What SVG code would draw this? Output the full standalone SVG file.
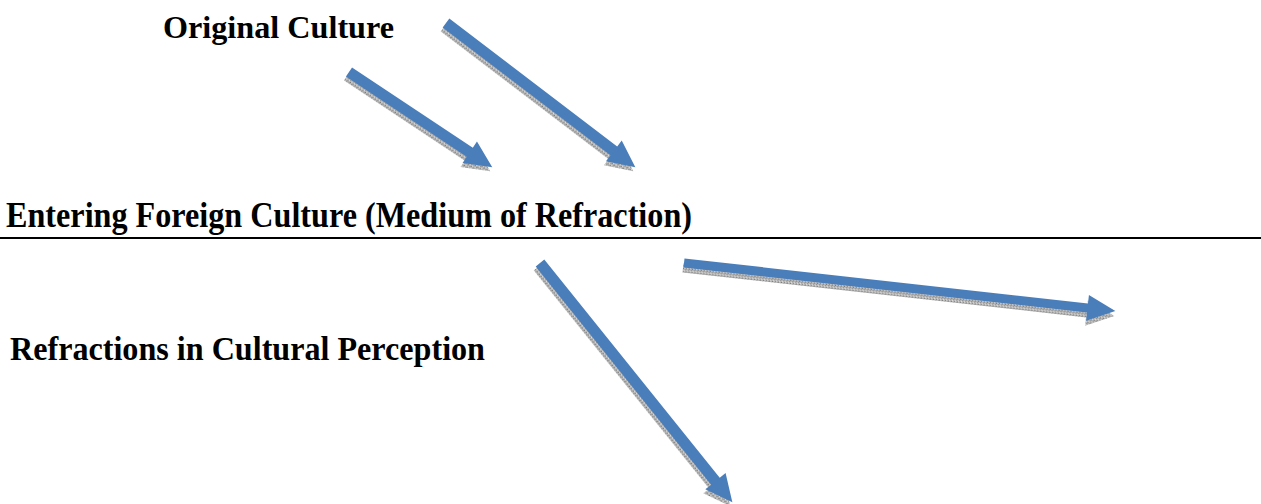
<svg xmlns="http://www.w3.org/2000/svg" width="1261" height="504" viewBox="0 0 1261 504">
  <defs>
    <pattern id="speckle" width="3" height="3" patternUnits="userSpaceOnUse">
      <rect width="3" height="3" fill="#b8b8b8"/>
      <rect x="0" y="0" width="1" height="1" fill="#7a7a7a"/>
      <rect x="2" y="1" width="1" height="1" fill="#8e8e8e"/>
      <rect x="1" y="2" width="1" height="1" fill="#e0e0e0"/>
    </pattern>
  </defs>
  <style>
    .lbl { font-family: "Liberation Serif", "Times New Roman", serif; font-weight: bold; fill: #000; }
    .arrow { fill: #4a7ebb; }
    .shadow { fill: url(#speckle); }
  </style>
  <rect width="1261" height="504" fill="#fff"/>

  <g id="node-original">
    <text class="lbl" x="163" y="38" font-size="32" textLength="231" lengthAdjust="spacingAndGlyphs">Original Culture</text>
  </g>
  <g id="node-entering">
    <text class="lbl" x="6" y="227" font-size="36" textLength="686" lengthAdjust="spacingAndGlyphs">Entering Foreign Culture (Medium of Refraction)</text>
    <rect x="0" y="237" width="1261" height="2" fill="#000"/>
  </g>
  <g id="node-refractions">
    <text class="lbl" x="10" y="360" font-size="33" textLength="475" lengthAdjust="spacingAndGlyphs">Refractions in Cultural Perception</text>
  </g>

  <g id="connectors">
    <!-- arrow 1 -->
    <g transform="translate(-2,4)"><path class="shadow" transform="translate(349,72) rotate(33.6)" d="M0,-5.5 H145 V-13 L172,0 L145,13 V5.5 H0 Z"/></g>
    <path class="arrow" transform="translate(349,72) rotate(33.6)" d="M0,-5.5 H145 V-13 L172,0 L145,13 V5.5 H0 Z"/>
    <!-- arrow 2 -->
    <g transform="translate(-2,4)"><path class="shadow" transform="translate(446,23) rotate(37.3)" d="M0,-5.5 H211 V-13 L238,0 L211,13 V5.5 H0 Z"/></g>
    <path class="arrow" transform="translate(446,23) rotate(37.3)" d="M0,-5.5 H211 V-13 L238,0 L211,13 V5.5 H0 Z"/>
    <!-- arrow 3 -->
    <g transform="translate(-2,4)"><path class="shadow" transform="translate(540,263) rotate(51.2)" d="M0,-5.5 H280 V-13 L307,0 L280,13 V5.5 H0 Z"/></g>
    <path class="arrow" transform="translate(540,263) rotate(51.2)" d="M0,-5.5 H280 V-13 L307,0 L280,13 V5.5 H0 Z"/>
    <!-- arrow 4 -->
    <g transform="translate(-1,5)"><path class="shadow" transform="translate(684,263) rotate(6.35)" d="M0,-4.5 H406 V-13 L434,0 L406,13 V4.5 H0 Z"/></g>
    <path class="arrow" transform="translate(684,263) rotate(6.35)" d="M0,-4.5 H406 V-13 L434,0 L406,13 V4.5 H0 Z"/>
  </g>
</svg>
